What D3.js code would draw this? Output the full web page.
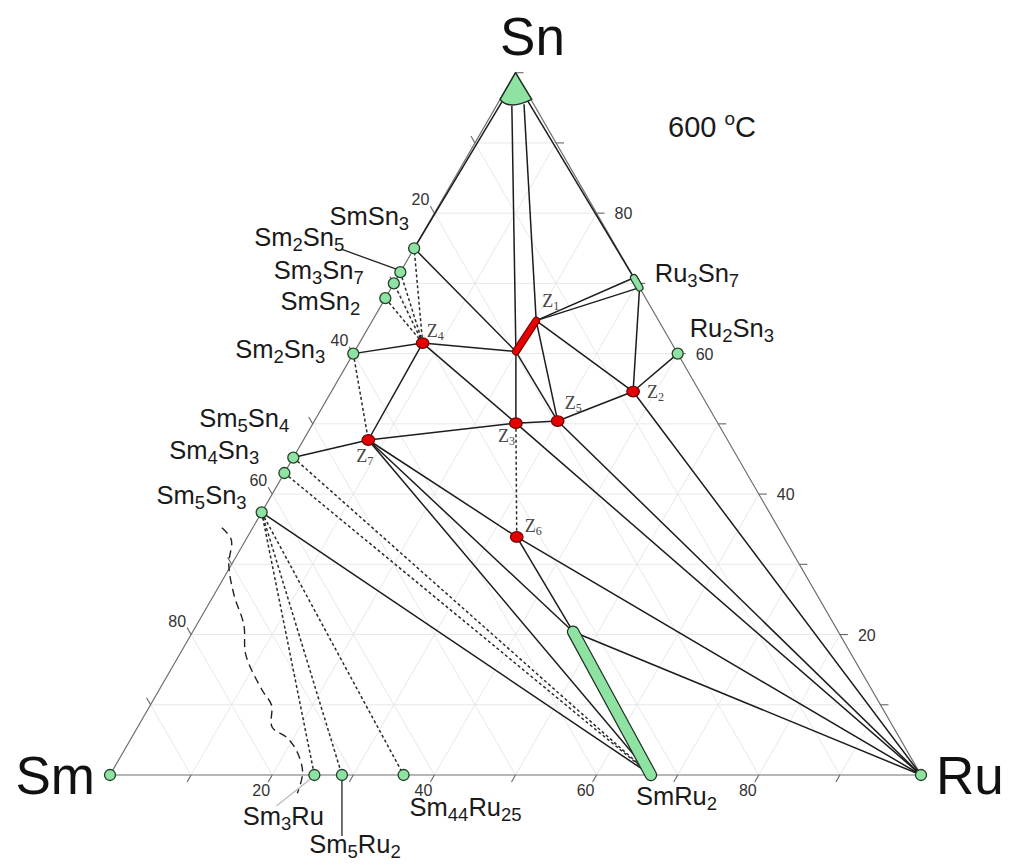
<!DOCTYPE html>
<html>
<head>
<meta charset="utf-8">
<script src="https://cdn.jsdelivr.net/npm/d3@7"></script>
<style>
body { margin: 0; background: #fff; }
svg { display: block; font-family: "Liberation Sans", Arial, sans-serif; }
</style>
</head>
<body>
<svg id="chart" width="1012" height="865"></svg>
<script>
// compositions in at.% : Ru and Sn, Sm is the rest
var phaseNames = ["Sm", "Ru", "SmSn3", "Sm2Sn5", "Sm3Sn7", "SmSn2", "Sm2Sn3", "Sm5Sn4", "Sm4Sn3", "Sm5Sn3", "Sm3Ru", "Sm5Ru2", "Sm44Ru25", "Ru2Sn3"];
var phaseRu = [0, 100, 0, 0, 0, 0, 0, 0, 0, 0, 25.2, 28.6, 36.2, 40];
var phaseSn = [0, 0, 75, 71.6, 70, 67.9, 60, 45.2, 43, 37.4, 0, 0, 0, 60];

// ternary phases (red)
var ternNames = ["Z2", "Z3", "Z4", "Z5", "Z6", "Z7"];
var ternRu = [37.2, 25.0, 7.8, 30.0, 33.2, 8.0];
var ternSn = [54.6, 50.1, 61.5, 50.4, 33.9, 47.7];

// phases with a homogeneity range (ends of the bar)
var z1Ru = [19.9, 20.2], z1Sn = [60.3, 64.7];
var ru3sn7Ru = [29.2, 30.6], ru3sn7Sn = [70.8, 69.4];
var smru2Ru = [66.7, 46.9], smru2Sn = [0, 20.4];
// (Sn) solid solution cap: apex, left corner, curve control, right corner
var snCapRu = [0, 0, 1.85, 3.9], snCapSn = [100, 96.2, 94.6, 96.2];
// tie line attachment points on the (Sn) cap
var capPtNames = ["SnL", "SnR", "Sn1", "Sn2"];
var capPtRu = [0.4, 3.4, 1.9, 3.3];
var capPtSn = [96.1, 96.1, 95.3, 95.5];

var solidTies = [
  ["SnL", "SmSn3"], ["SnR", "Ru3Sn7a"], ["Sn1", "Z1a"], ["Sn2", "Z1b"],
  ["Z1b", "Ru3Sn7a"], ["Z1b", "Ru3Sn7b"], ["Ru3Sn7b", "Z2"], ["Z1b", "Z2"],
  ["Z2", "Ru2Sn3"], ["Z2", "Ru"], ["Z1b", "Z5"], ["Z1a", "Z5"], ["Z1a", "Z3"],
  ["SmSn3", "Z1a"], ["Z4", "Z1a"], ["Z4", "Sm2Sn3"], ["Z4", "Z7"], ["Z4", "Z3"],
  ["Z3", "Z5"], ["Z5", "Z2"], ["Z3", "Z7"], ["Z5", "Ru"], ["Z3", "Ru"],
  ["Z7", "Sm5Sn4"], ["Z7", "Z6"], ["Z7", "SmRu2top"], ["Z7", "SmRu2"],
  ["Sm5Sn3", "SmRu2"], ["Z6", "Ru"], ["Z6", "SmRu2top"], ["SmRu2top", "Ru"]
];
var dottedTies = [
  ["Z4", "SmSn3"], ["Z4", "Sm2Sn5"], ["Z4", "Sm3Sn7"], ["Z4", "SmSn2"],
  ["Sm2Sn3", "Z7"], ["Z3", "Z6"], ["Sm5Sn4", "SmRu2"], ["Sm4Sn3", "SmRu2"],
  ["Sm5Sn3", "Sm3Ru"], ["Sm5Sn3", "Sm5Ru2"], ["Sm5Sn3", "Sm44Ru25"]
];

// dashed boundary near the Sm corner
var liqRu = [-3.8, -1.8, -0.3, 2.5, 5.8, 8.2, 12.7, 14.9, 16.6, 19.2, 21.6, 23.6, 24.4];
var liqSn = [35.2, 33.5, 29.9, 25.6, 21.4, 17.1, 12.1, 10.0, 6.8, 5.3, 3.1, 0.3, -2.6];

var tickSteps = [10, 20, 30, 40, 50, 60, 70, 80, 90];
var tickLabels = [20, 40, 60, 80];

var svg = d3.select("#chart");
var xs = d3.scaleLinear().domain([0, 100]).range([110, 921]);
var ys = d3.scaleLinear().domain([0, 100]).range([775, 72.7]);

function proj(ru, sn) { return [xs(ru + sn / 2), ys(sn)]; }

var pt = {};
phaseNames.forEach(function(n, i) { pt[n] = proj(phaseRu[i], phaseSn[i]); });
ternNames.forEach(function(n, i) { pt[n] = proj(ternRu[i], ternSn[i]); });
capPtNames.forEach(function(n, i) { pt[n] = proj(capPtRu[i], capPtSn[i]); });
pt.Z1a = proj(z1Ru[0], z1Sn[0]); pt.Z1b = proj(z1Ru[1], z1Sn[1]);
pt.Ru3Sn7a = proj(ru3sn7Ru[0], ru3sn7Sn[0]); pt.Ru3Sn7b = proj(ru3sn7Ru[1], ru3sn7Sn[1]);
pt.SmRu2 = proj(smru2Ru[0], smru2Sn[0]); pt.SmRu2top = proj(smru2Ru[1], smru2Sn[1]);
pt.Ru3Sn7 = proj((ru3sn7Ru[0] + ru3sn7Ru[1]) / 2, (ru3sn7Sn[0] + ru3sn7Sn[1]) / 2);

var line = d3.line();

// faint grid
var grid = svg.append("g").attr("stroke", "#e8e8e8").attr("stroke-width", 1).attr("fill", "none");
tickSteps.forEach(function(v) {
  grid.append("path").attr("d", line([proj(0, v), proj(100 - v, v)]));
  grid.append("path").attr("d", line([proj(v, 0), proj(v, 100 - v)]));
  grid.append("path").attr("d", line([proj(100 - v, 0), proj(0, 100 - v)]));
});

// triangle
svg.append("path")
  .attr("d", line([proj(0, 0), proj(100, 0), proj(0, 100)]) + "Z")
  .attr("fill", "none").attr("stroke", "#6e6e6e").attr("stroke-width", 1.2);

// ticks
var tk = svg.append("g").attr("stroke", "#666").attr("stroke-width", 1.1);
var tl = 8;
tickSteps.concat([100]).forEach(function(v) {
  var p;
  if (v < 100) {
    p = proj(v, 0);   // Ru axis
    tk.append("line").attr("x1", p[0]).attr("y1", p[1]).attr("x2", p[0] - 0.5 * tl).attr("y2", p[1] + 0.866 * tl);
    p = proj(0, 100 - v);  // Sm axis
    tk.append("line").attr("x1", p[0]).attr("y1", p[1]).attr("x2", p[0] - 0.5 * tl).attr("y2", p[1] - 0.866 * tl);
  }
  p = proj(100 - v, v);  // Sn axis
  tk.append("line").attr("x1", p[0]).attr("y1", p[1]).attr("x2", p[0] + tl).attr("y2", p[1]);
});

var tlab = svg.append("g").attr("font-size", 16).attr("fill", "#333");
tickLabels.forEach(function(v) {
  var p = proj(v, 0);
  tlab.append("text").attr("x", p[0] - 11).attr("y", p[1] + 21).attr("text-anchor", "middle").text(v);
  p = proj(0, 100 - v);
  tlab.append("text").attr("x", p[0] - 5).attr("y", p[1] - 8).attr("text-anchor", "end").text(v);
  p = proj(100 - v, v);
  tlab.append("text").attr("x", p[0] + 18).attr("y", p[1] + 6).attr("text-anchor", "start").text(v);
});

// tie lines
svg.append("g").selectAll("line").data(dottedTies).join("line")
  .attr("x1", function(d) { return pt[d[0]][0]; }).attr("y1", function(d) { return pt[d[0]][1]; })
  .attr("x2", function(d) { return pt[d[1]][0]; }).attr("y2", function(d) { return pt[d[1]][1]; })
  .attr("stroke", "#2a2a2a").attr("stroke-width", 1.5).attr("stroke-dasharray", "3,2.5");

svg.append("g").selectAll("line").data(solidTies).join("line")
  .attr("x1", function(d) { return pt[d[0]][0]; }).attr("y1", function(d) { return pt[d[0]][1]; })
  .attr("x2", function(d) { return pt[d[1]][0]; }).attr("y2", function(d) { return pt[d[1]][1]; })
  .attr("stroke", "#1c1c1c").attr("stroke-width", 1.5);

// dashed curve
var liqPts = liqRu.map(function(r, i) { return proj(r, liqSn[i]); });
svg.append("path").attr("d", d3.line().curve(d3.curveCatmullRom)(liqPts))
  .attr("fill", "none").attr("stroke", "#222").attr("stroke-width", 1.4).attr("stroke-dasharray", "8,5");

// leader lines
function leader(name, d1, d2, col) {
  var p = pt[name];
  svg.append("line").attr("x1", p[0] + d1[0]).attr("y1", p[1] + d1[1])
    .attr("x2", p[0] + d2[0]).attr("y2", p[1] + d2[1])
    .attr("stroke", col).attr("stroke-width", 1.3);
}
leader("Sm2Sn5", [-59, -23], [-4, -3], "#222");
leader("Sm3Ru", [-4, 4], [-38, 31], "#bbb");
leader("Sm5Ru2", [0, 2], [0, 61], "#222");

// (Sn) cap
var cap = snCapRu.map(function(r, i) { return proj(r, snCapSn[i]); });
svg.append("path")
  .attr("d", "M" + cap[0] + "L" + cap[1] + "Q" + cap[2] + " " + cap[3] + "Z")
  .attr("fill", "#8ee3a3").attr("stroke", "#1f2f22").attr("stroke-width", 1.5).attr("stroke-linejoin", "round");

// range bars
function bar(a, b, w, fill, edge) {
  svg.append("line").attr("x1", a[0]).attr("y1", a[1]).attr("x2", b[0]).attr("y2", b[1])
    .attr("stroke", edge).attr("stroke-width", w + 2.4).attr("stroke-linecap", "round");
  svg.append("line").attr("x1", a[0]).attr("y1", a[1]).attr("x2", b[0]).attr("y2", b[1])
    .attr("stroke", fill).attr("stroke-width", w).attr("stroke-linecap", "round");
}
bar(pt.SmRu2, pt.SmRu2top, 10, "#8ee3a3", "#1f2f22");
bar(pt.Ru3Sn7a, pt.Ru3Sn7b, 5.5, "#8ee3a3", "#1f2f22");
bar(pt.Z1a, pt.Z1b, 5.5, "#e60000", "#7a0000");

// binary phase markers
svg.append("g").selectAll("circle").data(phaseNames).join("circle")
  .attr("cx", function(d) { return pt[d][0]; }).attr("cy", function(d) { return pt[d][1]; })
  .attr("r", 5.5).attr("fill", "#8ee3a3").attr("stroke", "#24402b").attr("stroke-width", 1.3);

// ternary markers
svg.append("g").selectAll("ellipse").data(ternNames).join("ellipse")
  .attr("cx", function(d) { return pt[d][0]; }).attr("cy", function(d) { return pt[d][1]; })
  .attr("rx", 6.3).attr("ry", 5.3).attr("fill", "#e20000").attr("stroke", "#6a0000").attr("stroke-width", 1.2);

// chemical formula with subscripts
function formula(g, txt, subSize) {
  var parts = txt.match(/[A-Za-z]+|[0-9]+/g);
  var sub = false;
  parts.forEach(function(s) {
    var isNum = /[0-9]/.test(s);
    var t = g.append("tspan").text(s);
    if (isNum) { t.attr("font-size", subSize).attr("dy", sub ? 0 : 5); sub = true; }
    else { t.attr("dy", sub ? -5 : 0); sub = false; }
  });
}

var labelNames = ["SmSn3", "Sm2Sn5", "Sm3Sn7", "SmSn2", "Sm2Sn3", "Sm5Sn4", "Sm4Sn3", "Sm5Sn3", "Ru3Sn7", "Ru2Sn3", "Sm3Ru", "Sm5Ru2", "Sm44Ru25", "SmRu2"];
var labelDx = [-5, -56, -30, -25, -28, -4, -25, -15, 18, 12, -31, 13, 6, -15];
var labelDy = [-23, -26, -4, 12, 4, -31, -14, -8, -1, -17, 50, 78, 41, 30];
var labelAnchor = ["end", "end", "end", "end", "end", "end", "end", "end", "start", "start", "middle", "middle", "start", "start"];

var lab = svg.append("g").attr("font-size", 25.5).attr("fill", "#1a1a1a");
labelNames.forEach(function(n, i) {
  var p = pt[n];
  var t = lab.append("text").attr("x", p[0] + labelDx[i]).attr("y", p[1] + labelDy[i]).attr("text-anchor", labelAnchor[i]);
  formula(t, n, 18.5);
});

// Z labels
var zNames = ["Z1", "Z2", "Z3", "Z4", "Z5", "Z6", "Z7"];
var zAnchor = ["Z1b", "Z2", "Z3", "Z4", "Z5", "Z6", "Z7"];
var zDx = [6, 14, -18, 4, 7, 8, -12];
var zDy = [-14, 6, 19, -6, -12, -5, 22];
var zl = svg.append("g").attr("font-family", "'Liberation Serif', 'DejaVu Serif', serif").attr("font-size", 18).attr("fill", "#444");
zNames.forEach(function(n, i) {
  var p = pt[zAnchor[i]];
  var t = zl.append("text").attr("x", p[0] + zDx[i]).attr("y", p[1] + zDy[i]);
  t.append("tspan").text("Z");
  t.append("tspan").attr("font-size", 12).attr("dy", 3).text(n.slice(1));
});

// corner labels
var vx = svg.append("g").attr("font-size", 53).attr("fill", "#111");
var pSn = proj(0, 100), pSm = proj(0, 0), pRu = proj(100, 0);
vx.append("text").attr("x", pSn[0] + 17).attr("y", pSn[1] - 18).attr("text-anchor", "middle").text("Sn");
vx.append("text").attr("x", pSm[0] - 15).attr("y", pSm[1] + 19).attr("text-anchor", "end").text("Sm");
vx.append("text").attr("x", pRu[0] + 15).attr("y", pRu[1] + 19).attr("text-anchor", "start").text("Ru");

// temperature
var tt = svg.append("text").attr("x", 668).attr("y", 137).attr("font-size", 29).attr("fill", "#1a1a1a");
tt.append("tspan").text("600 ");
tt.append("tspan").attr("font-size", 19).attr("dy", -12).text("o");
tt.append("tspan").attr("dy", 12).text("C");
</script>
</body>
</html>
